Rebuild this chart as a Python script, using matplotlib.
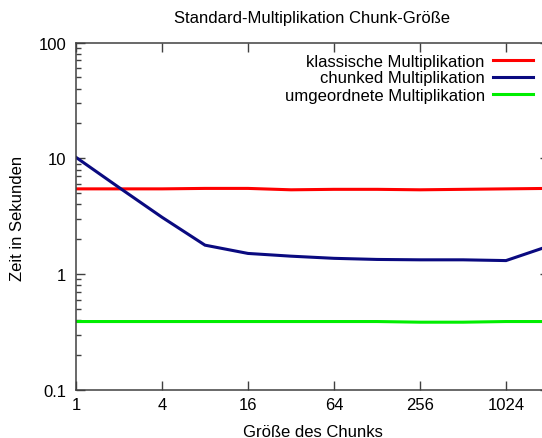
import matplotlib
matplotlib.use("Agg")
import matplotlib.pyplot as plt
import matplotlib.ticker as mticker

plt.rcParams["font.family"] = ["Liberation Sans", "DejaVu Sans"]

# --------------------------------------------------------------------------- #
# Data
# --------------------------------------------------------------------------- #
chunk_sizes = [1, 2, 4, 8, 16, 32, 64, 128, 256, 512, 1024, 2048]
klassisch = [5.45, 5.45, 5.45, 5.5, 5.5, 5.35, 5.4, 5.4, 5.35, 5.4, 5.45, 5.5]
chunked = [10.2, 5.6, 3.1, 1.78, 1.51, 1.43, 1.37, 1.34, 1.33, 1.33, 1.31, 1.75]
umgeordnet = [0.39, 0.39, 0.39, 0.39, 0.39, 0.39, 0.39, 0.39, 0.385, 0.385, 0.39, 0.39]

x_ticks = [1, 4, 16, 64, 256, 1024]
y_ticks = [0.1, 1, 10, 100]

SERIES = [
    ("klassische Multiplikation", klassisch, "#ff0000"),
    ("chunked Multiplikation", chunked, "#0a0a80"),
    ("umgeordnete Multiplikation", umgeordnet, "#00ee00"),
]

W, H = 542, 439
fig = plt.figure(figsize=(W / 100, H / 100), dpi=100)
# axes frame: left 76px, right 549px (slightly past the image edge), top 43.5px, bottom 391px
ax = fig.add_axes([76 / W, (H - 391) / H, (549 - 76) / W, (391 - 43.5) / H])

for label, values, color in SERIES:
    ax.plot(chunk_sizes, values, color=color, linewidth=2.2, label=label,
            solid_joinstyle="miter")

ax.set_xscale("log", base=2)
ax.set_yscale("log")
ax.set_xlim(1, 2048)
ax.set_ylim(0.1, 100)

ax.xaxis.set_major_locator(mticker.FixedLocator(x_ticks))
ax.xaxis.set_major_formatter(mticker.FixedFormatter([str(v) for v in x_ticks]))
ax.xaxis.set_minor_locator(mticker.NullLocator())
ax.yaxis.set_major_locator(mticker.FixedLocator(y_ticks))
ax.yaxis.set_major_formatter(mticker.FixedFormatter(["0.1", "1", "10", "100"]))
ax.yaxis.set_minor_locator(mticker.LogLocator(base=10, subs=range(2, 10)))
ax.yaxis.set_minor_formatter(mticker.NullFormatter())

ax.tick_params(which="both", direction="in", top=True, right=True,
               color="#404040", labelsize=12)
ax.tick_params(which="major", length=6.5, width=1.0)
ax.tick_params(which="minor", length=3.5, width=1.0)
ax.tick_params(axis="x", pad=5)
ax.tick_params(axis="y", pad=7)
for sp in ax.spines.values():
    sp.set_color("#404040")
    sp.set_linewidth(1.1)

fig.text(18 / W, 1 - 218 / H, "Zeit in Sekunden", rotation=90,
         ha="center", va="center", fontsize=12)
fig.text(312.5 / W, 1 - 433 / H, "Größe des Chunks",
         ha="center", va="center", fontsize=12)
fig.text(312.5 / W, 1 - 18 / H, "Standard-Multiplikation Chunk-Größe",
         ha="center", va="center", fontsize=12)

ax.legend(loc="upper right", frameon=False, markerfirst=False, fontsize=12,
          handlelength=2.4, handletextpad=0.5, labelspacing=0.12,
          borderpad=0, borderaxespad=0,
          bbox_to_anchor=(1 - 16 / 473, 1 - 11 / 347.5))

fig.savefig("out.png", dpi=100)
